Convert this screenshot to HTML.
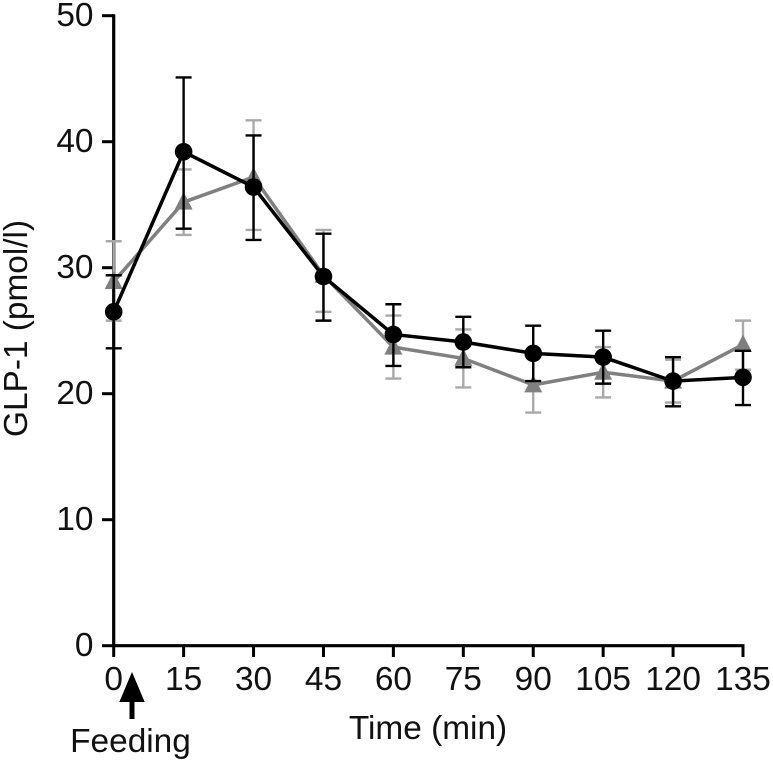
<!DOCTYPE html>
<html>
<head>
<meta charset="utf-8">
<style>
html,body{margin:0;padding:0;background:#fff;}
svg{display:block;}
text{font-family:"Liberation Sans",sans-serif;font-size:33.4px;fill:#111;}
</style>
</head>
<body>
<svg id="chart" width="773" height="763" viewBox="0 0 773 763" xmlns="http://www.w3.org/2000/svg">
<text transform="translate(27,437) rotate(-90)">GLP-1 (pmol/l)</text>
<text x="428" y="739" text-anchor="middle">Time (min)</text>
<text x="130.5" y="752" text-anchor="middle">Feeding</text>
<polygon points="132,672 119.3,702 144.7,702" fill="#000"/>
<rect x="129.5" y="701" width="5" height="18" fill="#000"/>
</svg>
<script>
const times = [0, 15, 30, 45, 60, 75, 90, 105, 120, 135];
const yTicks = [0, 10, 20, 30, 40, 50];
const grayMeans = [28.9, 35.2, 37.2, 29.4, 23.7, 22.8, 20.7, 21.7, 21.0, 23.9];
const grayUpper = [32.1, 37.8, 41.7, 33.0, 26.2, 25.1, 22.9, 23.7, 22.7, 25.8];
const grayLower = [25.8, 32.6, 33.0, 26.5, 21.2, 20.5, 18.5, 19.7, 19.3, 21.9];
const blackMeans = [26.5, 39.2, 36.4, 29.3, 24.7, 24.1, 23.2, 22.9, 21.0, 21.3];
const blackUpper = [29.4, 45.1, 40.5, 32.7, 27.1, 26.1, 25.4, 25.0, 22.9, 23.4];
const blackLower = [23.6, 33.1, 32.2, 25.8, 22.2, 22.1, 21.0, 20.8, 19.0, 19.1];

const svg = document.getElementById('chart');
const NS = 'http://www.w3.org/2000/svg';
const xOf = function (t) { return 113.7 + (t / 135) * (743 - 113.7); };
const yOf = function (v) { return 645.7 - (v / 50) * (645.7 - 15.7); };

function make(tag, attrs) {
  const el = document.createElementNS(NS, tag);
  Object.keys(attrs).forEach(function (k) { el.setAttribute(k, attrs[k]); });
  svg.appendChild(el);
  return el;
}

yTicks.forEach(function (v) {
  const tick = make('line', {x1: 102, x2: 113.7, y1: yOf(v), y2: yOf(v), stroke: '#000', 'stroke-width': 3});
  
  
  const label = make('text', {x: 93.5, y: yOf(v) + 10.5, 'text-anchor': 'end'});
  label.textContent = v;
  
  
});

times.forEach(function (t) {
  const tick = make('line', {x1: xOf(t), x2: xOf(t), y1: 645.7, y2: 657, stroke: '#000', 'stroke-width': 3});
  
  
  const label = make('text', {x: xOf(t), y: 690, 'text-anchor': 'middle'});
  label.textContent = t;
  
  
});

const yAxis = make('line', {x1: 113.7, x2: 113.7, y1: 14.2, y2: 647, stroke: '#000', 'stroke-width': 3.2});


const xAxis = make('line', {x1: 112, x2: 744.5, y1: 645.7, y2: 645.7, stroke: '#000', 'stroke-width': 3.2});



function drawErrors(upper, lower, color, width, prefix) {
  times.forEach(function (t, i) {
    const x = xOf(t);
    const d = 'M' + x + ' ' + yOf(upper[i]) + 'V' + yOf(lower[i]) +
      'M' + (x - 8) + ' ' + yOf(upper[i]) + 'H' + (x + 8) +
      'M' + (x - 8) + ' ' + yOf(lower[i]) + 'H' + (x + 8);
    const err = make('path', {d: d, stroke: color, 'stroke-width': width, fill: 'none'});
    
    
  });
}

function linePoints(means) {
  return times.map(function (t, i) { return xOf(t) + ',' + yOf(means[i]); }).join(' ');
}

drawErrors(grayUpper, grayLower, '#a9a9a9', 2.4, 'gray');
const grayLine = make('polyline', {points: linePoints(grayMeans), fill: 'none', stroke: '#808080', 'stroke-width': 3.5});


times.forEach(function (t, i) {
  const x = xOf(t), y = yOf(grayMeans[i]);
  const pts = x + ',' + (y - 10) + ' ' + (x - 9) + ',' + (y + 7.5) + ' ' + (x + 9) + ',' + (y + 7.5);
  const tri = make('polygon', {points: pts, fill: '#808080'});
  
  
});

drawErrors(blackUpper, blackLower, '#000', 2.4, 'black');
const blackLine = make('polyline', {points: linePoints(blackMeans), fill: 'none', stroke: '#000', 'stroke-width': 3.5});


times.forEach(function (t, i) {
  const dot = make('circle', {cx: xOf(t), cy: yOf(blackMeans[i]), r: 8.8, fill: '#000'});
  
  
});
</script>
</body>
</html>
